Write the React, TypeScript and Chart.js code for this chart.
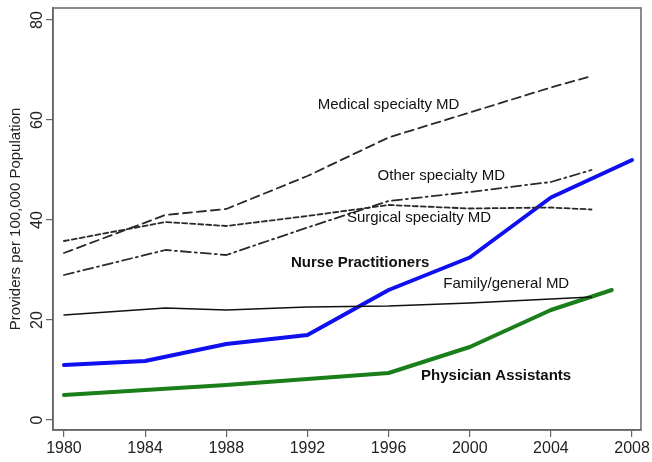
import { useEffect, useRef } from 'react';
import { Chart, registerables } from 'chart.js';
Chart.register(...registerables);

const mdYears = [1980, 1985, 1988, 1992, 1996, 2000, 2004, 2006];
const medicalValues = [33.4, 41, 42.2, 48.8, 56.5, 61.5, 66.5, 68.8];
const surgicalValues = [35.8, 39.6, 38.8, 40.8, 43, 42.3, 42.5, 42.1];
const otherValues = [29, 34, 33, 38.5, 43.8, 45.6, 47.6, 50];
const familyValues = [21, 22.4, 22, 22.6, 22.8, 23.4, 24.2, 24.6];
const npYears = [1980, 1984, 1988, 1992, 1996, 2000, 2004, 2008];
const npValues = [11, 11.8, 15.2, 17, 26, 32.5, 44.5, 52];
const paYears = [1980, 1984, 1988, 1992, 1996, 2000, 2004, 2007];
const paValues = [5, 6, 7, 8.2, 9.4, 14.6, 22, 26];

const xTicks = [1980, 1984, 1988, 1992, 1996, 2000, 2004, 2008];
const yTicks = [0, 20, 40, 60, 80];
const yTitle = 'Providers per 100,000 Population';

const labelTexts = ['Medical specialty MD', 'Other specialty MD', 'Surgical specialty MD', 'Nurse Practitioners', 'Family/general MD', 'Physician Assistants'];
const labelYears = [1996, 1998.6, 1997.5, 1994.6, 2001.8, 2001.3];
const labelValues = [63, 48.8, 40.4, 31.4, 27.2, 8.8];
const labelBold = [false, false, false, true, false, true];

const FONT = '"Liberation Sans", Arial, sans-serif';
const FRAME = '#666';

const pts = (xs: number[], ys: number[]) => xs.map((x, i) => ({ x, y: ys[i] }));

export default function App() {
  const ref = useRef<HTMLCanvasElement>(null);
  useEffect(() => {
    const overlay = {
      id: 'overlay',
      afterDraw(chart: any) {
        const ctx = chart.ctx;
        const xs = chart.scales.x;
        const ys = chart.scales.y;
        const a = chart.chartArea;
        ctx.save();
        ctx.strokeStyle = FRAME;
        ctx.lineWidth = 1.5;
        ctx.strokeRect(a.left, a.top, a.right - a.left, a.bottom - a.top);
        // annotations
        ctx.fillStyle = '#111';
        ctx.textAlign = 'center';
        ctx.textBaseline = 'middle';
        labelTexts.forEach((t, i) => {
          ctx.font = (labelBold[i] ? 'bold ' : '') + '15px ' + FONT;
          ctx.fillText(t, xs.getPixelForValue(labelYears[i]), ys.getPixelForValue(labelValues[i]));
        });
        // y tick labels rotated
        ctx.font = '16px ' + FONT;
        ctx.fillStyle = '#222';
        yTicks.forEach((v) => {
          ctx.save();
          ctx.translate(38, ys.getPixelForValue(v));
          ctx.rotate(-Math.PI / 2);
          ctx.fillText(String(v), 0, 0);
          ctx.restore();
        });
        // y title
        ctx.font = '15px ' + FONT;
        ctx.save();
        ctx.translate(16, (a.top + a.bottom) / 2);
        ctx.rotate(-Math.PI / 2);
        ctx.fillText(yTitle, 0, 0);
        ctx.restore();
        ctx.restore();
      },
    };
    const dark = '#2a2a2a';
    const chart = new Chart(ref.current!, {
      type: 'line',
      data: {
        datasets: [
          { label: 'Medical specialty MD', data: pts(mdYears, medicalValues), borderColor: dark, borderWidth: 1.8, borderDash: [9, 5] },
          { label: 'Surgical specialty MD', data: pts(mdYears, surgicalValues), borderColor: dark, borderWidth: 1.8, borderDash: [5, 3] },
          { label: 'Other specialty MD', data: pts(mdYears, otherValues), borderColor: dark, borderWidth: 1.8, borderDash: [10, 4, 2, 4] },
          { label: 'Family/general MD', data: pts(mdYears, familyValues), borderColor: '#111', borderWidth: 1.3 },
          { label: 'Nurse Practitioners', data: pts(npYears, npValues), borderColor: '#1010ee', borderWidth: 4 },
          { label: 'Physician Assistants', data: pts(paYears, paValues), borderColor: '#1a7f1a', borderWidth: 4 },
        ].map((d) => ({ ...d, pointRadius: 0, fill: false, tension: 0, borderCapStyle: 'round', borderJoinStyle: 'round' })) as any,
      },
      options: {
        animation: false,
        responsive: false,
        maintainAspectRatio: false,
        layout: { padding: { top: 8, right: 9, left: 0, bottom: 0 } },
        plugins: { legend: { display: false }, tooltip: { enabled: false } },
        scales: {
          x: {
            type: 'linear',
            min: 1979.46,
            max: 2008.44,
            afterBuildTicks: (s: any) => { s.ticks = xTicks.map((v) => ({ value: v })); },
            afterFit: (s: any) => { s.height = 32; },
            grid: { drawOnChartArea: false, drawTicks: true, tickLength: 7, color: FRAME, lineWidth: 1.2 },
            border: { display: true, color: FRAME, width: 1.5 },
            ticks: { color: '#222', font: { family: FONT, size: 16 }, padding: 2, maxRotation: 0, minRotation: 0, callback: (v: any) => String(v) },
          },
          y: {
            type: 'linear',
            min: -2,
            max: 82.4,
            afterBuildTicks: (s: any) => { s.ticks = yTicks.map((v) => ({ value: v })); },
            afterFit: (s: any) => { s.width = 53; },
            grid: { drawOnChartArea: false, drawTicks: true, tickLength: 7, color: FRAME, lineWidth: 1.2 },
            border: { display: true, color: FRAME, width: 1.5 },
            ticks: { display: false },
          },
        },
      } as any,
      plugins: [overlay],
    });
    return () => chart.destroy();
  }, []);
  return (
    <div style={{ position: 'fixed', left: 0, top: 0, width: 652, height: 462, background: '#fff' }}>
      <canvas ref={ref} width={652} height={462} style={{ width: 652, height: 462, display: 'block' }} />
    </div>
  );
}
